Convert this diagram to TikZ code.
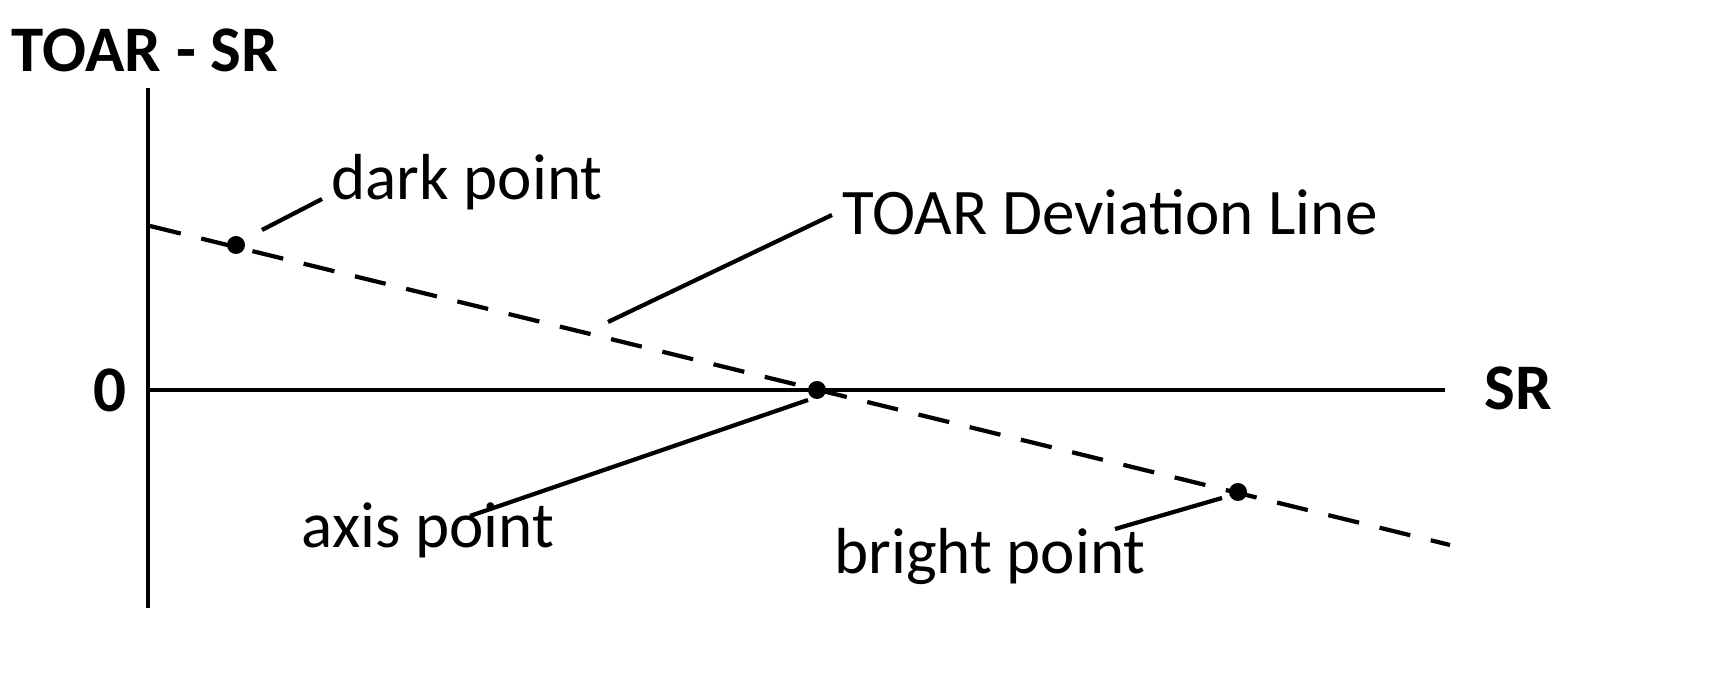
\documentclass[tikz,border=0pt]{standalone}
\usepackage{fontspec}
\setmainfont{Carlito}
\usetikzlibrary{positioning}
\begin{document}
\begin{tikzpicture}[x=0.01cm,y=-0.01cm,line width=1.2pt,
	lbl/.style={font=\fontsize{18.5}{22}\selectfont},
	axlbl/.style={font=\fontsize{18.5}{22}\selectfont\bfseries},
	dot/.style={circle,fill,inner sep=0pt,minimum size=0.18cm}]
		\useasboundingbox (0,0) rectangle (1729,689);

		% axes
		\coordinate (ytop) at (148,88);
		\coordinate (ybot) at (148,608);
		\coordinate (xl) at (148,390);
		\coordinate (xr) at (1445,390);
		\draw (ytop) -- (ybot);
		\draw (xl) -- (xr);
		\node[axlbl] (ylab) at (145,50) {TOAR - SR};
		\node[axlbl] (xlab) at (1518,388) {SR};
		\node[axlbl] (zero) at (110,390) {0};

		% deviation line
		\coordinate (ls) at (150,226);
		\coordinate (le) at (1450,545);
		\draw[dash pattern=on 9pt off 6pt] (ls) -- (le);

		\node[dot] (dark) at (236,245) {};
		\node[dot] (axis) at (817,390) {};
		\node[dot] (bright) at (1238,492) {};

		% labels
		\node[lbl] (darklab) at (467,182) {dark point};
		\node[lbl] (devlab) at (1110,212) {TOAR Deviation Line};
		\node[lbl] (axislab) at (428,530) {axis point};
		\node[lbl] (brightlab) at (990,557) {bright point};
		\coordinate (devpt) at (608,322);

		\draw (262,230) -- (322,199);
		\draw (devpt) -- (832,215);
		\draw (470,516) -- (808,400);
		\draw (1115,529) -- (1222,498);
	\end{tikzpicture}
\end{document}
